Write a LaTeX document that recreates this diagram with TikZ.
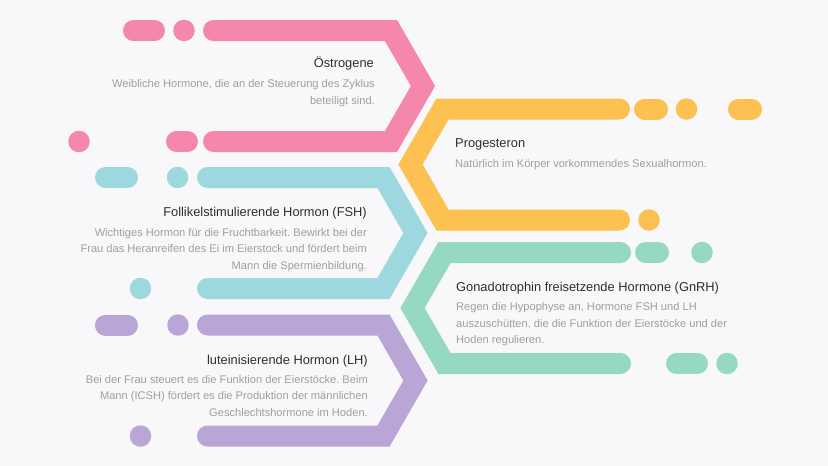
\documentclass[tikz,border=0pt]{standalone}
\usepackage{fontspec}
\setmainfont{Liberation Sans}
\usepackage{xcolor}
\usepackage{tikz}
\frenchspacing
\definecolor{bgwhite}{HTML}{F8F7FA}
\definecolor{rosa}{HTML}{F588AA}
\definecolor{gelb}{HTML}{FCC151}
\definecolor{tuerkis}{HTML}{9DD8DF}
\definecolor{mint}{HTML}{95D9C3}
\definecolor{lila}{HTML}{B9A6D6}
\definecolor{titlegray}{HTML}{2E2E2E}
\definecolor{descgray}{HTML}{9F9F9F}
\tikzset{
    pics/chevron/.style args={#1/#2/#3/#4/#5}{
    code = {
    		\draw[line width=21pt, line cap=round, line join=miter, draw=#5] (#1,#2) -- (#3,#2) -- (#4,\fpeval{#2+55.5}) -- (#3,\fpeval{#2+111}) -- (#1,\fpeval{#2+111});
    }}
}
\tikzset{
    pics/pill/.style args={#1/#2/#3/#4}{
    code = {
    		\draw[line width=21pt, line cap=round, draw=#4] (#1,#3) -- (#2,#3);
    }}
}
\tikzset{
    pics/dot/.style args={#1/#2/#3}{
    code = {
    		\fill[#3] (#1,#2) circle (10.75pt);
    }}
}
\tikzset{
    title/.style={font=\fontsize{12.85}{15}\selectfont, text=titlegray, inner sep=0pt},
    desc/.style={font=\fontsize{11.1}{16.3}\selectfont, text=descgray, inner sep=0pt}
}

\begin{document}
\begin{tikzpicture}[x=1pt,y=-1pt]
		\fill[bgwhite] (0,0) rectangle (828,466);

		%oestrogen
		\pic{chevron=213.5/30.5/391/423/rosa};
		\pic{pill=133.5/154.5/30.5/rosa};
		\pic{dot=184/30.5/rosa};
		\pic{dot=79/141.5/rosa};
		\pic{pill=176.5/187.5/141.5/rosa};
		\node[title, anchor=base east] (oestro) at (374,67.9) {Östrogene};
		\node[desc, anchor=base east, align=right] (oestro_txt) at (375,104) {Weibliche Hormone, die an der Steuerung des Zyklus\\beteiligt sind.};

		%progesteron
		\pic{chevron=619.5/109/442.5/410.5/gelb};
		\pic{pill=644.5/657.5/109/gelb};
		\pic{dot=686.5/109/gelb};
		\pic{pill=738.5/751.5/109/gelb};
		\pic{dot=649/220/gelb};
		\node[title, anchor=base west] (proge) at (455,147.9) {Progesteron};
		\node[desc, anchor=base west] (proge_txt) at (455,167.3) {Natürlich im Körper vorkommendes Sexualhormon.};

		%fsh
		\pic{chevron=207.5/177.5/383.5/415.5/tuerkis};
		\pic{pill=105.5/127.5/177.5/tuerkis};
		\pic{dot=177.5/177.5/tuerkis};
		\pic{dot=140.5/288.5/tuerkis};
		\node[title, anchor=base east] (fsh) at (367,216.9) {Follikelstimulierende Hormon (FSH)};
		\node[desc, anchor=base east, align=right] (fsh_txt) at (367,269) {Wichtiges Hormon für die Fruchtbarkeit. Bewirkt bei der\\Frau das Heranreifen des Ei im Eierstock und fördert beim\\Mann die Spermienbildung.};

		%gnrh
		\pic{chevron=620.5/252.5/444.5/412.5/mint};
		\pic{pill=645.5/658.5/252.5/mint};
		\pic{dot=702/252.5/mint};
		\pic{pill=676.5/697.5/363.5/mint};
		\pic{dot=727/363.5/mint};
		\node[title, anchor=base west] (gnrh) at (456,291.3) {Gonadotrophin freisetzende Hormone (GnRH)};
		\node[desc, anchor=base west, align=left] (gnrh_txt) at (456,343.3) {Regen die Hypophyse an, Hormone FSH und LH\\auszuschütten, die die Funktion der Eierstöcke und der\\Hoden regulieren.};

		%lh
		\pic{chevron=207.5/325/383.5/415.5/lila};
		\pic{pill=105.5/127.5/325/lila};
		\pic{dot=178/325/lila};
		\pic{dot=140.5/436/lila};
		\node[title, anchor=base east] (lh) at (368,364.6) {luteinisierende Hormon (LH)};
		\node[desc, anchor=base east, align=right] (lh_txt) at (368,416) {Bei der Frau steuert es die Funktion der Eierstöcke. Beim\\Mann (ICSH) fördert es die Produktion der männlichen\\Geschlechtshormone im Hoden.};

	\end{tikzpicture}
\end{document}
